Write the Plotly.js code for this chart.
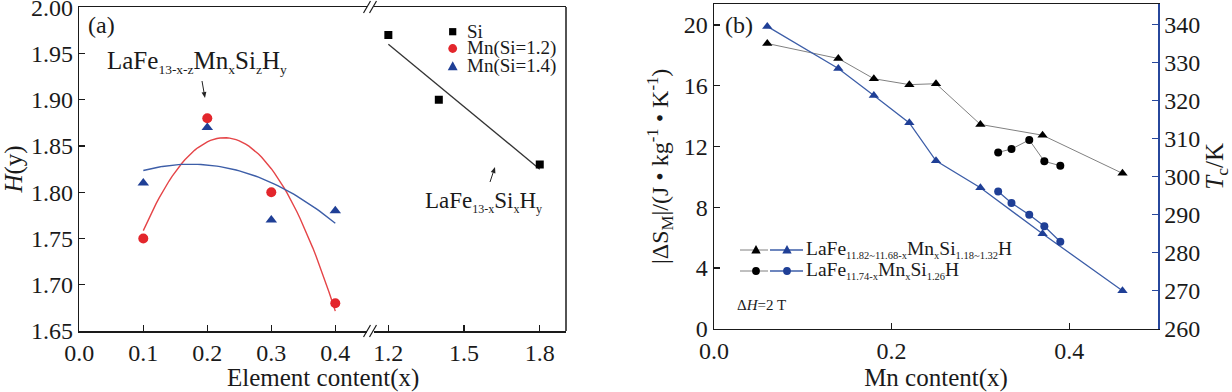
<!DOCTYPE html>
<html><head><meta charset="utf-8">
<script src="https://cdn.plot.ly/plotly-3.0.1.min.js"></script>
<style>html,body{margin:0;padding:0;background:#fff}#chart{width:1232px;height:392px}</style>
</head><body><div id="chart"></div>
<script>
// ---------- Panel (a) data ----------
const mnX = [0.1, 0.2, 0.3, 0.4];
const hMnSi12 = [1.75, 1.88, 1.80, 1.68];
const hMnSi14 = [1.81, 1.87, 1.77, 1.78];
const siX = [1.2, 1.4, 1.8];
const hSi = [1.97, 1.90, 1.83];
const aXTickVals = [0.0, 0.1, 0.2, 0.3, 0.4];
const aXTickText = ['0.0', '0.1', '0.2', '0.3', '0.4'];
const aXBreakVals = [1.2, 1.5, 1.8];
const aXBreakText = ['1.2', '1.5', '1.8'];
const aYTickVals = [1.65, 1.70, 1.75, 1.80, 1.85, 1.90, 1.95, 2.00];

// ---------- Panel (b) data ----------
const mnA = [0.06, 0.14, 0.18, 0.22, 0.25, 0.30, 0.37, 0.46];
const dsA = [18.78, 17.79, 16.46, 16.07, 16.13, 13.45, 12.74, 10.23];
const tcA = [339.6, 328.5, 321.4, 314.2, 304.2, 297.1, 285.0, 270.0];
const mnB = [0.32, 0.335, 0.355, 0.372, 0.39];
const dsB = [11.61, 11.83, 12.43, 11.02, 10.73];
const tcB = [296.1, 293.1, 290.0, 287.0, 282.9];
const bXTickVals = [0.0, 0.2, 0.4];
const bYTickVals = [0, 4, 8, 12, 16, 20];
const bY2TickVals = [260, 270, 280, 290, 300, 310, 320, 330, 340];

// ---------- least-squares fits (as drawn in the original) ----------
function polyfit(xs, ys, deg) {
  const n = deg + 1;
  const A = Array.from({length: n}, () => new Array(n + 1).fill(0));
  for (let k = 0; k < xs.length; k++) {
    for (let i = 0; i < n; i++) {
      for (let j = 0; j < n; j++) A[i][j] += Math.pow(xs[k], i + j);
      A[i][n] += ys[k] * Math.pow(xs[k], i);
    }
  }
  for (let i = 0; i < n; i++) {
    let p = i;
    for (let r = i + 1; r < n; r++) if (Math.abs(A[r][i]) > Math.abs(A[p][i])) p = r;
    [A[i], A[p]] = [A[p], A[i]];
    for (let r = 0; r < n; r++) {
      if (r === i) continue;
      const f = A[r][i] / A[i][i];
      for (let c = i; c <= n; c++) A[r][c] -= f * A[i][c];
    }
  }
  return A.map((row, i) => row[n] / row[i]);
}
function fitCurve(xs, ys, deg, steps) {
  const c = polyfit(xs, ys, deg);
  const x0 = Math.min(...xs), x1 = Math.max(...xs);
  const fx = [], fy = [];
  for (let i = 0; i <= steps; i++) {
    const x = x0 + (x1 - x0) * i / steps;
    fx.push(x);
    fy.push(c.reduce((s, ci, k) => s + ci * Math.pow(x, k), 0));
  }
  return {x: fx, y: fy};
}
const fitRed = fitCurve(mnX, hMnSi12, 2, 60);
const fitBlue = fitCurve(mnX, hMnSi14, 2, 60);
const fitSi = fitCurve(siX, hSi, 1, 2);

// ---------- styling ----------
const W = 1232, H = 392;
const PX = p => p / W, PY = p => 1 - p / H;
const SERIF = 'Liberation Serif, Times New Roman, serif';
const INK = '#1a1a1a';
const RED = '#e3262c', RED_L = '#e54548';
const BLUE = '#1f3f96', BLUE_L = '#3d5ea8';
const GRAY_L = '#808080';

const traces = [
  {x: fitRed.x, y: fitRed.y, xaxis: 'x', yaxis: 'y', mode: 'lines', line: {color: RED_L, width: 1.4}, hoverinfo: 'skip'},
  {x: fitBlue.x, y: fitBlue.y, xaxis: 'x', yaxis: 'y', mode: 'lines', line: {color: BLUE_L, width: 1.4}, hoverinfo: 'skip'},
  {x: fitSi.x, y: fitSi.y, xaxis: 'x3', yaxis: 'y', mode: 'lines', line: {color: '#333', width: 1.3}, hoverinfo: 'skip'},
  {x: mnX, y: hMnSi12, xaxis: 'x', yaxis: 'y', mode: 'markers', name: 'Mn(Si=1.2)', marker: {symbol: 'circle', size: 10, color: RED}},
  {x: mnX, y: hMnSi14, xaxis: 'x', yaxis: 'y', mode: 'markers', name: 'Mn(Si=1.4)', marker: {symbol: 'triangle-up', size: 10, color: BLUE}},
  {x: siX, y: hSi, xaxis: 'x3', yaxis: 'y', mode: 'markers', name: 'Si', marker: {symbol: 'square', size: 8, color: '#000'}},

  {x: mnA, y: dsA, xaxis: 'x2', yaxis: 'y2', mode: 'lines+markers', line: {color: GRAY_L, width: 1}, marker: {symbol: 'triangle-up', size: 9, color: '#000'}},
  {x: mnB, y: dsB, xaxis: 'x2', yaxis: 'y2', mode: 'lines+markers', line: {color: GRAY_L, width: 1}, marker: {symbol: 'circle', size: 8, color: '#000'}},
  {x: mnA, y: tcA, xaxis: 'x2', yaxis: 'y4', mode: 'lines+markers', line: {color: BLUE_L, width: 1.3}, marker: {symbol: 'triangle-up', size: 9, color: BLUE}},
  {x: mnB, y: tcB, xaxis: 'x2', yaxis: 'y4', mode: 'lines+markers', line: {color: BLUE_L, width: 1.3}, marker: {symbol: 'circle', size: 8, color: BLUE}}
];

const axBase = {
  showgrid: false, zeroline: false, ticks: 'inside', ticklen: 6, tickwidth: 1.2,
  tickcolor: INK, linecolor: INK, linewidth: 1.5, ticklabeloverflow: 'allow',
  tickfont: {family: SERIF, size: 24, color: INK}
};

// ---------- decoration helpers (pixel positions -> paper) ----------
function poly(pts, color) {
  return {type: 'path', xref: 'paper', yref: 'paper', layer: 'above',
    path: 'M' + pts.map(q => PX(q[0]) + ',' + PY(q[1])).join(' L') + ' Z',
    fillcolor: color, line: {width: 0}};
}
function tri(cx, cy, s, color) {
  return poly([[cx, cy - s * 0.58], [cx - s * 0.55, cy + s * 0.42], [cx + s * 0.55, cy + s * 0.42]], color);
}
function circ(cx, cy, r, color) {
  return {type: 'circle', xref: 'paper', yref: 'paper', layer: 'above',
    x0: PX(cx - r), x1: PX(cx + r), y0: PY(cy + r), y1: PY(cy - r), fillcolor: color, line: {width: 0}};
}
function sq(cx, cy, r, color) {
  return {type: 'rect', xref: 'paper', yref: 'paper', layer: 'above',
    x0: PX(cx - r), x1: PX(cx + r), y0: PY(cy + r), y1: PY(cy - r), fillcolor: color, line: {width: 0}};
}
function seg(x0, y0, x1, y1, color, w) {
  return {type: 'line', xref: 'paper', yref: 'paper', layer: 'above',
    x0: PX(x0), y0: PY(y0), x1: PX(x1), y1: PY(y1), line: {color: color, width: w}};
}
function whiteBox(x0, y0, x1, y1) {
  return {type: 'rect', xref: 'paper', yref: 'paper', layer: 'above',
    x0: PX(x0), x1: PX(x1), y0: PY(y1), y1: PY(y0), fillcolor: '#fff', line: {width: 0}};
}
function arrowShapes(hx, hy, tx, ty) {
  const dx = hx - tx, dy = hy - ty, L = Math.hypot(dx, dy);
  const ux = dx / L, uy = dy / L, len = 6, w = 2.4;
  const bx = hx - ux * len, by = hy - uy * len;
  return [seg(tx, ty, bx, by, '#222', 1),
    poly([[hx, hy], [bx - uy * w, by + ux * w], [bx + uy * w, by - ux * w]], '#222')];
}
function txt(text, x, y, size, xanchor) {
  return {text: text, x: PX(x), y: PY(y), xref: 'paper', yref: 'paper',
    xanchor: xanchor || 'left', yanchor: 'middle', showarrow: false,
    font: {family: SERIF, size: size, color: INK}};
}
const sub = (s, px) => '<sub><span style="font-size:' + px + 'px">' + s + '</span></sub>';

const BRK = 371.7;
const shapes = [
  // panel (a) right frame edge
  seg(566, 7, 566, 331, INK, 1.5),
  // axis breaks
  whiteBox(367, 328, 374, 334), whiteBox(367, 4, 374, 10),
  seg(363.5, 337, 370.5, 325, INK, 1.2), seg(369.5, 337, 376.5, 325, INK, 1.2),
  seg(363.5, 13, 370.5, 1, INK, 1.2), seg(369.5, 13, 376.5, 1, INK, 1.2),
  // annotation arrows
  ...arrowShapes(205, 98, 202, 81),
  ...arrowShapes(495, 167, 490, 182),
  // panel (a) legend symbols
  sq(452.7, 31.7, 3.6, '#000'),
  circ(452.7, 48.5, 4.4, RED),
  tri(452.7, 66.5, 9, BLUE),
  // panel (b) legend symbols
  seg(740, 250, 768, 250, GRAY_L, 1), tri(756, 250, 8.5, '#000'),
  seg(770, 250, 803, 250, BLUE_L, 1.3), tri(787, 250, 8.5, BLUE),
  seg(740, 271, 768, 271, GRAY_L, 1), circ(756, 271, 3.9, '#000'),
  seg(770, 271, 803, 271, BLUE_L, 1.3), circ(787, 271, 3.9, BLUE)
];

const annotations = [
  txt('(a)', 86, 25, 24),
  txt('(b)', 723, 25, 24),
  txt('LaFe' + sub('13-x-z', 13.5) + 'Mn' + sub('x', 13.5) + 'Si' + sub('z', 13.5) + 'H' + sub('y', 13.5), 197, 62, 25, 'center'),
  txt('LaFe' + sub('13-x', 12) + 'Si' + sub('x', 12) + 'H' + sub('y', 12), 483, 202, 23, 'center'),
  txt('Si', 465, 31, 19),
  txt('Mn(Si=1.2)', 465, 48.5, 19),
  txt('Mn(Si=1.4)', 465, 66, 19),
  txt('LaFe' + sub('11.82~11.68-x', 10.5) + 'Mn' + sub('x', 10.5) + 'Si' + sub('1.18~1.32', 10.5) + 'H', 804, 249, 19.5),
  txt('LaFe' + sub('11.74-x', 10.5) + 'Mn' + sub('x', 10.5) + 'Si' + sub('1.26', 10.5) + 'H', 804, 270, 19.5),
  txt('Δ<i>H</i>=2 T', 735, 305, 15),
  txt('Element content(x)', 322.5, 378, 25, 'center')
];

const layout = {
  width: W, height: H, margin: {l: 0, r: 0, t: 0, b: 0},
  paper_bgcolor: '#fff', plot_bgcolor: 'rgba(0,0,0,0)', showlegend: false,
  font: {family: SERIF, size: 24, color: INK},
  xaxis: Object.assign({}, axBase, {domain: [PX(79.3), PX(BRK)], range: [0, 0.4569], anchor: 'y',
    tickvals: aXTickVals, ticktext: aXTickText, showline: true, mirror: true}),
  xaxis3: Object.assign({}, axBase, {domain: [PX(BRK), PX(566)], range: [1.134, 1.904], anchor: 'y',
    tickvals: aXBreakVals, ticktext: aXBreakText, showline: true, mirror: true}),
  yaxis: Object.assign({}, axBase, {domain: [PY(331), PY(7)], range: [1.65, 2.0003], anchor: 'x',
    tickvals: aYTickVals, tickformat: '.2f', showline: true,
    title: {text: '<i>H</i>(y)', font: {family: SERIF, size: 25, color: INK}, standoff: 8}}),
  xaxis2: Object.assign({}, axBase, {domain: [PX(714), PX(1158)], range: [0, 0.5], anchor: 'y2',
    tickvals: bXTickVals, tickformat: '.1f', showline: true, mirror: true,
    title: {text: 'Mn content(x)', font: {family: SERIF, size: 25, color: INK}, standoff: 6}}),
  yaxis2: Object.assign({}, axBase, {domain: [PY(328.7), PY(4)], range: [0, 21.38], anchor: 'x2',
    tickvals: bYTickVals, showline: true,
    title: {text: '|ΔS<sub>M</sub>|/(J • kg<sup>-1</sup> • K<sup>-1</sup>)', font: {family: SERIF, size: 24, color: INK}, standoff: 8}}),
  yaxis4: Object.assign({}, axBase, {domain: [PY(328.7), PY(4)], range: [260, 345.5], anchor: 'x2',
    overlaying: 'y2', side: 'right', tickvals: bY2TickVals, showline: true,
    linecolor: '#27479c', tickcolor: '#27479c',
    title: {text: '<i>T</i><sub>c</sub>/K', font: {family: SERIF, size: 25, color: INK}, standoff: 6}}),
  shapes: shapes,
  annotations: annotations
};

Plotly.newPlot('chart', traces, layout, {displayModeBar: false, staticPlot: true});
</script>
</body></html>
